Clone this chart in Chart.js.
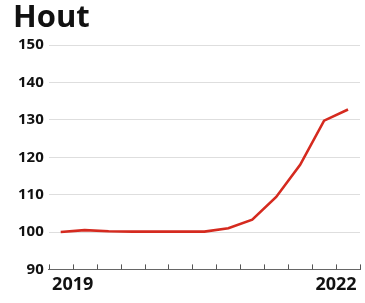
<!DOCTYPE html>
<html lang="nl">
<head>
    <meta charset="UTF-8">
    <title>Hout</title>
    <style>
        html, body { margin: 0; padding: 0; background: white; }
        #wrap { width: 365px; height: 303px; }
    </style>
    <script src="https://cdn.jsdelivr.net/npm/chart.js"></script>
</head>
<body>
    <div id="wrap"><canvas id="chart"></canvas></div>
    <script>
        // kwartalen 2019 Q1 t/m 2022 Q1, index 2019 = 100
        var quarters = ['2019 K1', '2019 K2', '2019 K3', '2019 K4', '2020 K1', '2020 K2', '2020 K3',
                        '2020 K4', '2021 K1', '2021 K2', '2021 K3', '2021 K4', '2022 K1'];
        var houtIndex = [100.0, 100.5, 100.2, 100.1, 100.1, 100.1, 100.1, 101.0, 103.3, 109.4, 118.0, 129.8, 132.8];
        var yTicks = [90, 100, 110, 120, 130, 140, 150];
        var yearLabels = { 1: '2019', 12: '2022' };

        var fontFamily = '"Open Sans", "DejaVu Sans", sans-serif';

        var points = houtIndex.map(function(v, i) { return { x: i + 0.5, y: v }; });

        // kleine streepjes boven de x-as
        var tickMarks = {
            id: 'tickMarks',
            afterDraw: function(chart) {
                var xs = chart.scales.x, ctx = chart.ctx, base = xs.top;
                ctx.save();
                ctx.strokeStyle = '#555';
                ctx.lineWidth = 1;
                xs.ticks.forEach(function(t) {
                    var px = Math.round(xs.getPixelForValue(t.value)) + 0.5;
                    ctx.beginPath();
                    ctx.moveTo(px, base - 5);
                    ctx.lineTo(px, base);
                    ctx.stroke();
                });
                ctx.restore();
            }
        };

        new Chart(document.getElementById('chart'), {
            type: 'line',
            data: {
                labels: quarters,
                datasets: [{
                    label: 'Hout',
                    data: points,
                    borderColor: '#d52a1f',
                    borderWidth: 2.6,
                    pointRadius: 0,
                    tension: 0,
                    fill: false
                }]
            },
            options: {
                responsive: true,
                maintainAspectRatio: false,
                animation: false,
                layout: { padding: { left: 13, right: 4, top: 0, bottom: 2 } },
                plugins: {
                    legend: { display: false },
                    tooltip: { enabled: false },
                    title: {
                        display: true,
                        text: 'Hout',
                        align: 'start',
                        color: '#111',
                        font: { family: fontFamily, size: 31, weight: 'bold' },
                        padding: { top: 0, bottom: 8 }
                    }
                },
                scales: {
                    x: {
                        type: 'linear',
                        min: 0,
                        max: quarters.length,
                        border: { display: true, color: '#666', width: 1 },
                        grid: { display: false, drawTicks: false },
                        ticks: {
                            stepSize: 1,
                            autoSkip: false,
                            maxRotation: 0,
                            padding: 5,
                            color: '#111',
                            font: { family: fontFamily, size: 18, weight: 'bold' },
                            callback: function(v) { return yearLabels[v] || ''; }
                        }
                    },
                    y: {
                        min: yTicks[0],
                        max: yTicks[yTicks.length - 1],
                        border: { display: false },
                        grid: { color: '#dedede', lineWidth: 1, drawTicks: false },
                        afterBuildTicks: function(scale) {
                            scale.ticks = yTicks.map(function(v) { return { value: v }; });
                        },
                        ticks: {
                            padding: 5,
                            color: '#111',
                            font: { family: fontFamily, size: 15, weight: 'bold' }
                        }
                    }
                }
            },
            plugins: [tickMarks]
        });
    </script>
</body>
</html>
